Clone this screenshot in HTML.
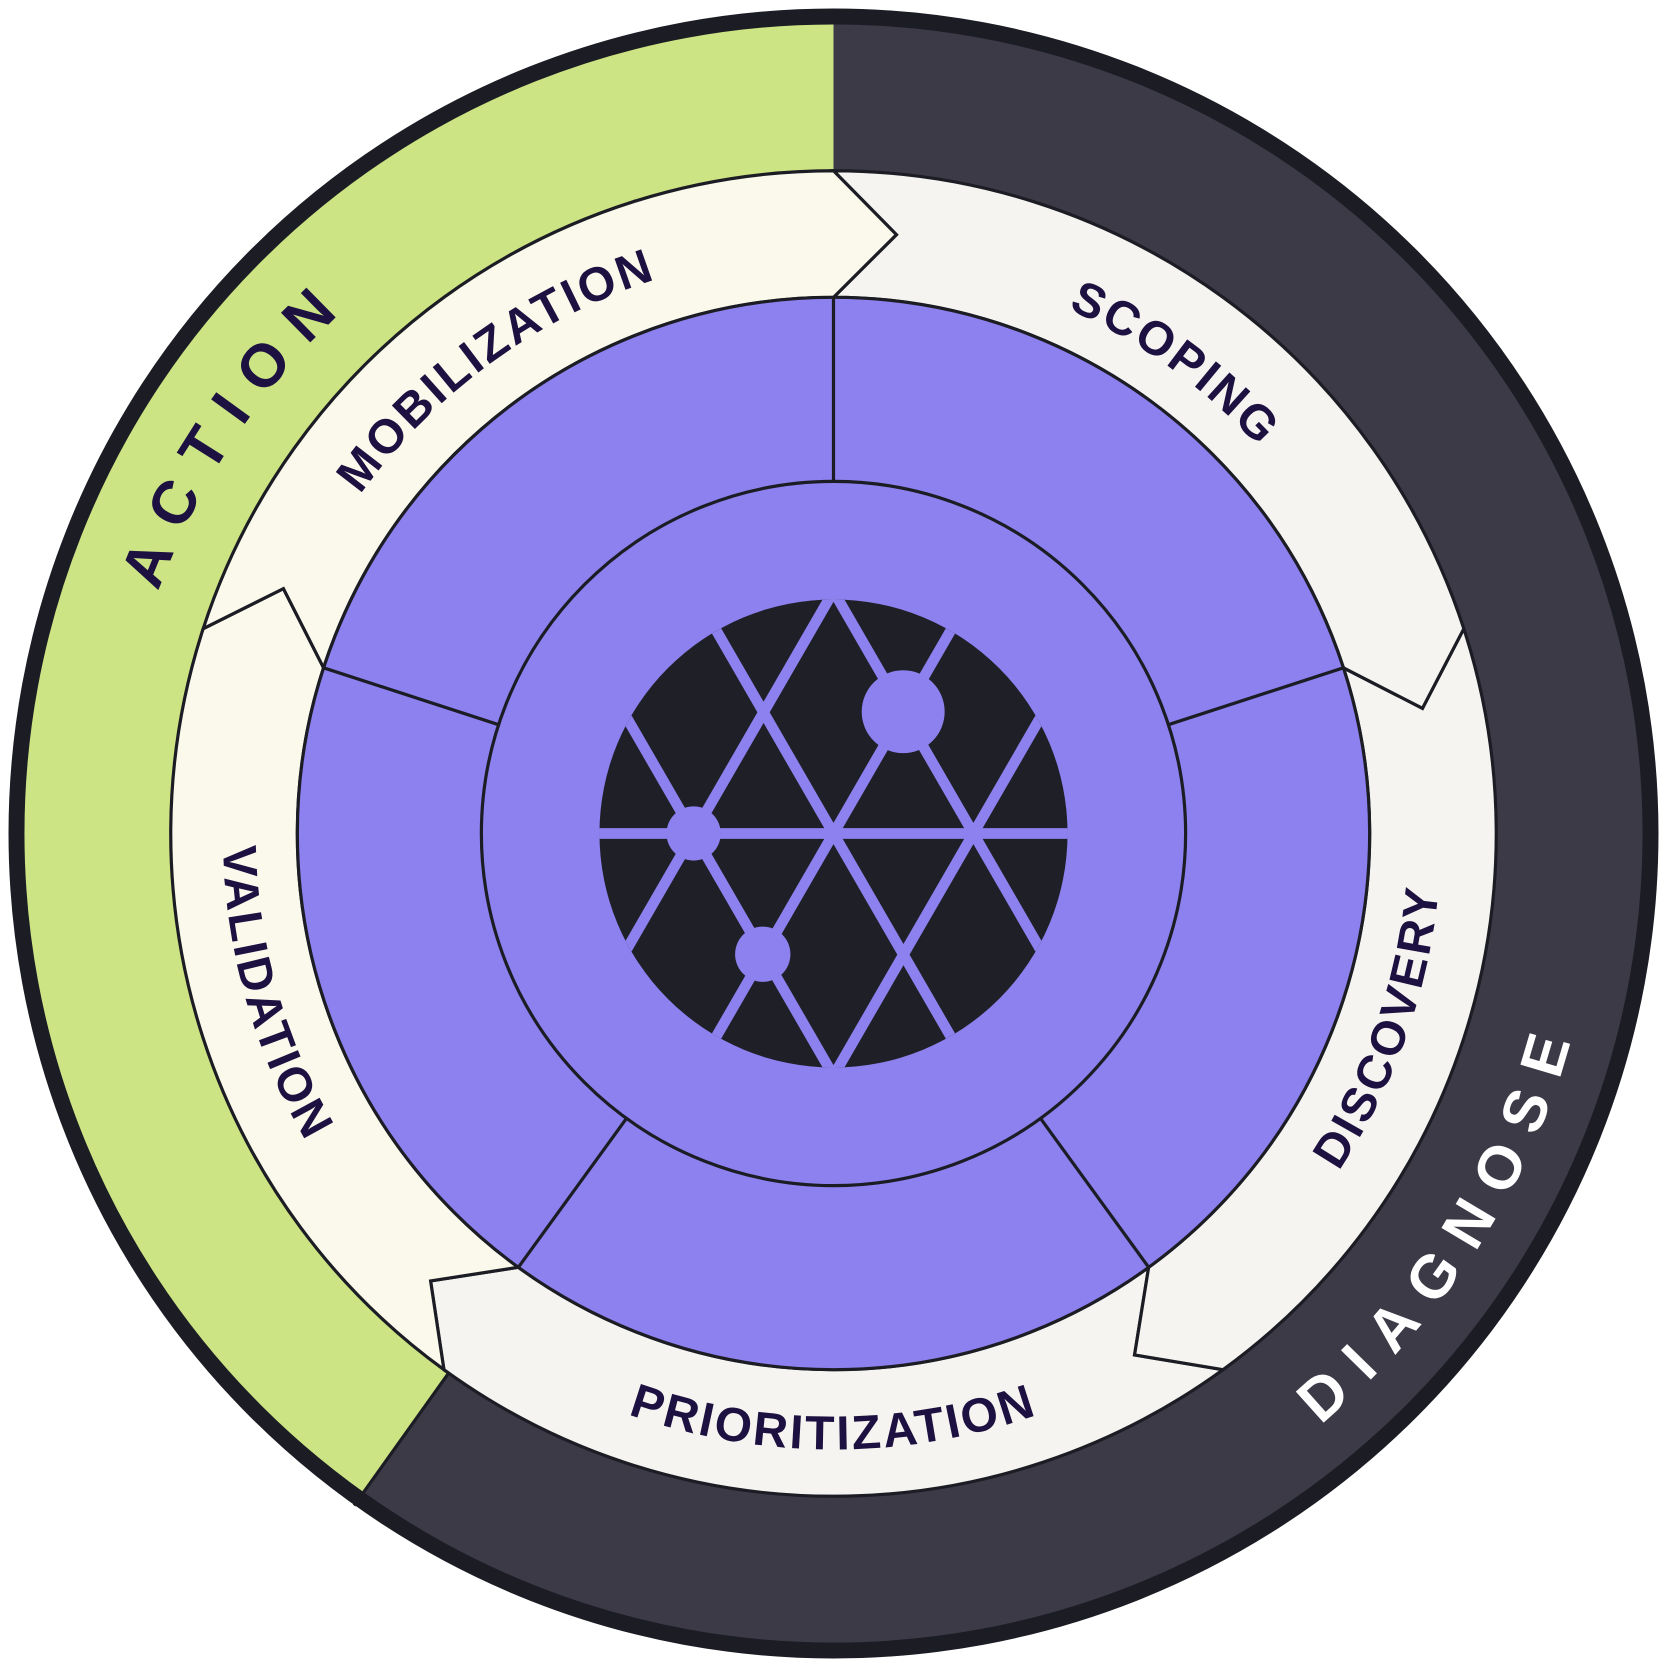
<!DOCTYPE html>
<html><head><meta charset="utf-8"><style>
html,body{margin:0;padding:0;background:#fff;}
svg{display:block;}
text{font-family:"Liberation Sans",sans-serif;font-weight:bold;}
</style></head><body>
<svg id="s" width="1667" height="1667" viewBox="0 0 1567 1567" xmlns="http://www.w3.org/2000/svg">
<defs>
<clipPath id="cc"><circle cx="783.5" cy="783.5" r="220"/></clipPath>
<path id="cw548" d="M783.5 236.5 A547 547 0 1 1 783.5 1330.5 A547 547 0 1 1 783.5 236.5"/>
<path id="cw541" d="M783.5 243.5 A540 540 0 1 1 783.5 1323.5 A540 540 0 1 1 783.5 243.5"/>
<path id="cw677" d="M783.5 109.5 A674 674 0 1 1 783.5 1457.5 A674 674 0 1 1 783.5 109.5"/>
<path id="ccw578" d="M783.5 204.5 A579 579 0 1 0 783.5 1362.5 A579 579 0 1 0 783.5 204.5"/>
<path id="ccw570" d="M783.5 212.5 A571 571 0 1 0 783.5 1354.5 A571 571 0 1 0 783.5 212.5"/>
<path id="ccw573" d="M783.5 209.5 A574 574 0 1 0 783.5 1357.5 A574 574 0 1 0 783.5 209.5"/>
<path id="ccw718" d="M783.5 63.5 A720 720 0 1 0 783.5 1503.5 A720 720 0 1 0 783.5 63.5"/>
</defs>
<g id="g"></g>
<g fill="#1c1140" font-size="45" letter-spacing="2.5" text-anchor="middle">
<text><textPath href="#cw548" startOffset="90%">MOBILIZATION</textPath></text>
<text><textPath href="#cw541" startOffset="10%">SCOPING</textPath></text>
<text><textPath href="#ccw570" startOffset="69.6%">DISCOVERY</textPath></text>
<text><textPath href="#ccw578" startOffset="50%">PRIORITIZATION</textPath></text>
<text><textPath href="#ccw573" startOffset="29.4%">VALIDATION</textPath></text>
</g>
<g font-size="57" letter-spacing="19" text-anchor="middle">
<text fill="#1c1140"><textPath href="#cw677" startOffset="84.4%">ACTION</textPath></text>
<text fill="#ffffff"><textPath href="#ccw718" startOffset="66%">DIAGNOSE</textPath></text>
</g>
</svg>
<script>
(function(){
var cx=783.5,cy=783.5,g=document.getElementById('g'),h='';
function P(r,a){var t=a*Math.PI/180;return [(cx+r*Math.sin(t)).toFixed(2),(cy-r*Math.cos(t)).toFixed(2)];}
function annSeg(r1,r2,a0,a1){var A=P(r2,a0),B=P(r2,a1),C=P(r1,a1),D=P(r1,a0);var lg=(a1-a0)>180?1:0;
return 'M'+A+' A'+r2+' '+r2+' 0 '+lg+' 1 '+B+' L'+C+' A'+r1+' '+r1+' 0 '+lg+' 0 '+D+' Z';}
h+='<circle cx="'+cx+'" cy="'+cy+'" r="772" fill="#3d3a48"/>';
h+='<path d="'+annSeg(623,772,215.5,360)+'" fill="#cce484"/>';
h+='<circle cx="'+cx+'" cy="'+cy+'" r="768" fill="none" stroke="#1c1d24" stroke-width="15"/>';
var a=P(623,215.5),b=P(776,215.5);
h+='<line x1="'+a[0]+'" y1="'+a[1]+'" x2="'+b[0]+'" y2="'+b[1]+'" stroke="#1c1d24" stroke-width="3"/>';
var cols={0:'#f5f4f0',72:'#f5f4f0',144:'#f5f4f0',216:'#faf9ec',288:'#faf9ec'};
var ro=623,ri=504,rt=566,d=6;
[144,72,0,216,288].forEach(function(a0){var a1=a0+72;
var O0=P(ro,a0),O1=P(ro,a1),T1=P(rt,a1+d),I1=P(ri,a1),I0=P(ri,a0),T0=P(rt,a0+d);
var p='M'+O0+' A'+ro+' '+ro+' 0 0 1 '+O1+' L'+T1+' L'+I1+' A'+ri+' '+ri+' 0 0 0 '+I0+' L'+T0+' Z';
h+='<path d="'+p+'" fill="'+cols[a0]+'" stroke="#1c1d24" stroke-width="3" stroke-linejoin="miter"/>';});
h+='<circle cx="'+cx+'" cy="'+cy+'" r="504" fill="#8c81ee" stroke="#1c1d24" stroke-width="3"/>';
[0,72,144,216,288].forEach(function(a){var p=P(331,a),q=P(504,a);
h+='<line x1="'+p[0]+'" y1="'+p[1]+'" x2="'+q[0]+'" y2="'+q[1]+'" stroke="#1c1d24" stroke-width="3"/>';});
h+='<circle cx="'+cx+'" cy="'+cy+'" r="331" fill="#8c81ee" stroke="#1c1d24" stroke-width="3"/>';
h+='<circle cx="'+cx+'" cy="'+cy+'" r="220" fill="#1f1f28"/>';
h+='<g clip-path="url(#cc)" stroke="#8c81ee" stroke-width="10">';
h+='<line x1="500" y1="'+cy+'" x2="1070" y2="'+cy+'"/>';
var s=131.5,k=Math.tan(Math.PI/6)*300;
for(var i=-4;i<=4;i++){var x0=cx+i*s;
h+='<line x1="'+(x0-k)+'" y1="'+(cy+300)+'" x2="'+(x0+k)+'" y2="'+(cy-300)+'"/>';
h+='<line x1="'+(x0+k)+'" y1="'+(cy+300)+'" x2="'+(x0-k)+'" y2="'+(cy-300)+'"/>';}
h+='</g>';
h+='<circle cx="849" cy="669" r="39" fill="#8c81ee"/>';
h+='<circle cx="652" cy="783.5" r="25.5" fill="#8c81ee"/>';
h+='<circle cx="717" cy="897" r="26" fill="#8c81ee"/>';
g.innerHTML=h;
})();
</script>
</body></html>
